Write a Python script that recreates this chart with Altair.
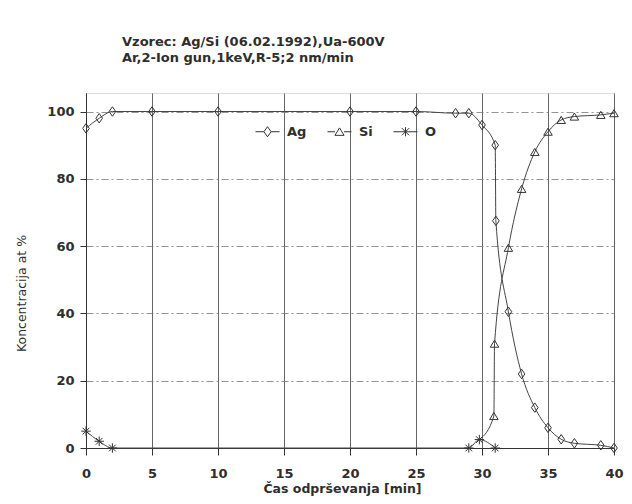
import altair as alt
import pandas as pd

# ---- data ----
series = ["Ag", "Si", "O"]
ag_x = [0, 1, 2, 5, 10, 20, 25, 28, 29, 30, 31.0, 31.05, 32, 33, 34, 35, 36, 37, 39, 40]
ag_y = [95, 98, 100, 100, 100, 100, 100, 99.5, 99.5, 96, 90, 67.5, 40.5, 22, 12, 6, 2.6, 1.4, 0.8, 0]
si_x = [29.8, 30.9, 30.95, 32, 33, 34, 35, 36, 37, 39, 40]
si_y = [2.5, 9.5, 31, 59.5, 77, 88, 94, 97.5, 98.5, 99, 99.5]
o_x = [0, 1, 2, 29, 29.8, 31]
o_y = [5, 2, 0, 0, 2.5, 0]
x_ticks = [0, 5, 10, 15, 20, 25, 30, 35, 40]
y_ticks = [0, 20, 40, 60, 80, 100]
title_lines = ["Vzorec: Ag/Si (06.02.1992),Ua-600V", "Ar,2-Ion gun,1keV,R-5;2 nm/min"]

rows = []
for name, xs, ys in (("Ag", ag_x, ag_y), ("Si", si_x, si_y), ("O", o_x, o_y)):
    for i, (xv, yv) in enumerate(zip(xs, ys)):
        rows.append({"series": name, "x": xv, "y": yv, "order": i})
df = pd.DataFrame(rows)

FONT = "DejaVu Sans"
INK = "#333333"
TXT = "#2e2e2e"
W = "bold"

point_shapes = [
    "M0,-1L0.7,0L0,1L-0.7,0Z",
    "M0,-0.75L0.9,0.75L-0.9,0.75Z",
    "M-1,0L1,0M0,-1L0,1M-0.7,-0.7L0.7,0.7M-0.7,0.7L0.7,-0.7",
]
legend_shapes = [
    "M-1,0L-0.3,0M0.3,0L1,0M0,-0.42L0.3,0L0,0.42L-0.3,0Z",
    "M-1,0L-0.38,0M0.38,0L1,0M0,-0.32L0.38,0.3L-0.38,0.3Z",
    "M-1,0L1,0M0,-0.38L0,0.38M-0.3,-0.3L0.3,0.3M-0.3,0.3L0.3,-0.3",
]

x_enc = alt.X(
    "x:Q",
    scale=alt.Scale(domain=[0, 40], nice=False, zero=False),
    axis=alt.Axis(
        values=x_ticks, grid=True, gridColor="#555555", gridWidth=0.9, gridOpacity=1,
        tickSize=7, tickColor=INK, domainColor=INK, labelFont=FONT, labelFontSize=13,
        labelFontWeight=W, labelColor=TXT, labelPadding=12, labelFlush=False,
        title="Čas odprševanja [min]", titleFont=FONT, titleFontSize=12.5,
        titleFontWeight=W, titleColor=TXT, titleX=256, titleY=40,
        titleBaseline="middle",
    ),
)
y_enc = alt.Y(
    "y:Q",
    scale=alt.Scale(domain=[0, 105.5], nice=False, zero=False),
    axis=alt.Axis(
        values=y_ticks, grid=True, gridColor="#777777", gridDash=[7, 3, 2, 3],
        gridWidth=0.8, gridOpacity=1, tickSize=6, tickColor=INK, domainColor=INK,
        labelFont=FONT, labelFontSize=13, labelFontWeight=W, labelColor=TXT, labelPadding=6,
        title="Koncentracija at %", titleFont=FONT, titleFontSize=12.5,
        titleFontWeight="normal", titleColor=TXT, titleAngle=270,
        titleX=-65, titleY=200, titleBaseline="middle", titleAlign="center",
    ),
)

base = alt.Chart(df)

lines = base.mark_line(color="#444444", strokeWidth=1, interpolate="monotone").encode(
    x=x_enc, y=y_enc, detail="series:N", order="order:Q"
)

points = base.mark_point(filled=False, color="#333333", strokeWidth=1, size=90, opacity=1).encode(
    x="x:Q", y="y:Q",
    shape=alt.Shape("series:N", scale=alt.Scale(domain=series, range=point_shapes), legend=None),
).transform_filter("!(datum.series == 'Si' && datum.x < 30)")

legend_layer = base.mark_point(filled=False, color="#333333", strokeWidth=1, size=576, opacity=1).encode(
    x="x:Q", y="y:Q",
    shape=alt.Shape(
        "series:N",
        scale=alt.Scale(domain=series, range=legend_shapes),
        legend=alt.Legend(
            title=None, orient="none", direction="horizontal", legendX=169, legendY=26,
            symbolSize=576, symbolStrokeWidth=1, symbolStrokeColor="#333333",
            symbolFillColor="transparent", labelFont=FONT, labelFontSize=13,
            labelFontWeight=W, labelColor=TXT, labelOffset=7, columnPadding=18,
        ),
    ),
).transform_filter("datum.x > 1000")

chart = (
    alt.layer(lines, points, legend_layer)
    .resolve_scale(shape="independent")
    .properties(
        width=528, height=355,
        autosize=alt.AutoSizeParams(type="none"),
        padding={"left": 78, "top": 85, "right": 10, "bottom": 48},
        title=alt.TitleParams(
            text=title_lines, anchor="start", frame="group", dx=36, offset=28,
            font=FONT, fontSize=13, fontWeight=W, color=TXT, lineHeight=16,
        ),
    )
    .configure_view(stroke=INK, strokeWidth=1)
    .configure(background="white")
)

chart.save("out.html", embed_options={"renderer": "svg", "actions": False})
